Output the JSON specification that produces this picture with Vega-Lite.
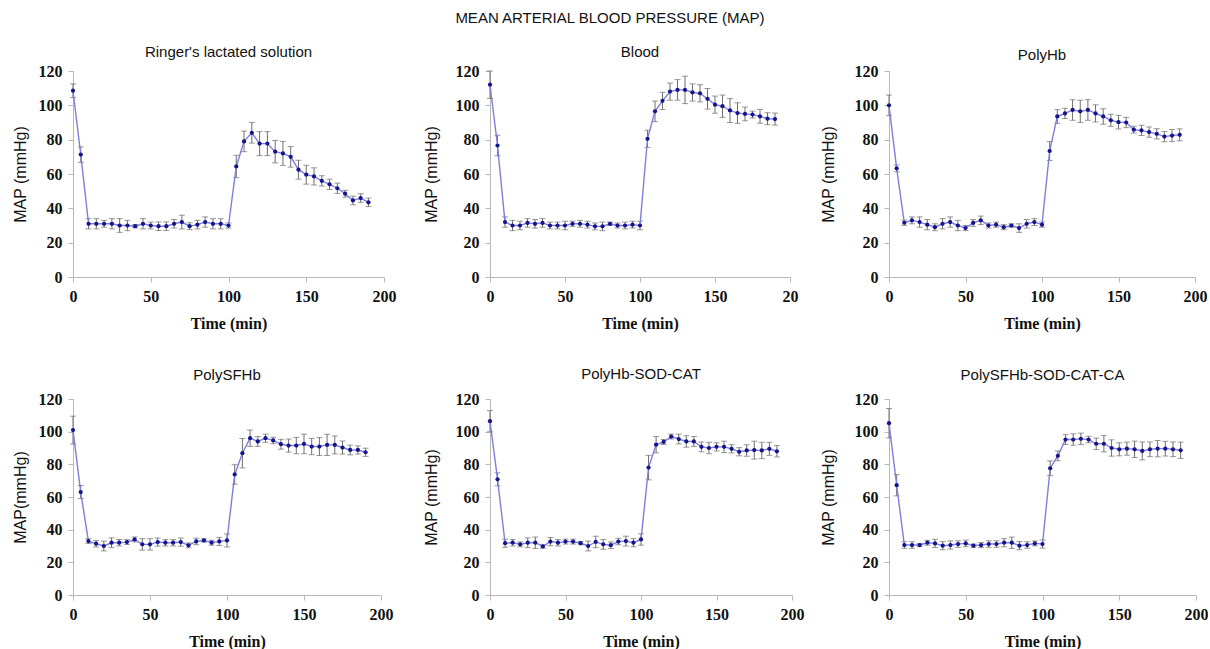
{
  "$schema": "https://vega.github.io/schema/vega-lite/v6.json",
  "padding": {"left": 12, "top": 11, "right": 0, "bottom": 0},
  "background": "white",
  "title": {"text": "MEAN ARTERIAL BLOOD PRESSURE (MAP)", "font": "Liberation Sans", "fontSize": 15, "fontWeight": "normal", "color": "#111", "anchor": "middle", "offset": 19},
  "datasets": {
    "ringer": [
      {"t":0,"m":108.5,"e":4},{"t":5,"m":71.3,"e":4.5},{"t":10,"m":31,"e":3},{"t":15,"m":31,"e":3},{"t":20,"m":31,"e":2},{"t":25,"m":31,"e":3},{"t":30,"m":30,"e":4},{"t":35,"m":30,"e":3},{"t":40,"m":29.6,"e":1},{"t":45,"m":31,"e":3},{"t":50,"m":30,"e":2},{"t":55,"m":29.6,"e":2.5},{"t":60,"m":29.6,"e":2.5},{"t":65,"m":31,"e":2.5},{"t":70,"m":32,"e":4},{"t":75,"m":29.6,"e":2},{"t":80,"m":30.5,"e":2.5},{"t":85,"m":32,"e":3},{"t":90,"m":31,"e":3},{"t":95,"m":31,"e":3},{"t":100,"m":30,"e":1.5},{"t":105,"m":64.4,"e":6.5},{"t":110,"m":79,"e":6},{"t":115,"m":84,"e":6},{"t":120,"m":77.7,"e":7},{"t":125,"m":77.7,"e":7},{"t":130,"m":73,"e":6.5},{"t":135,"m":72,"e":7},{"t":140,"m":70,"e":6},{"t":145,"m":62.5,"e":5.5},{"t":150,"m":59.6,"e":5.5},{"t":155,"m":58.6,"e":5},{"t":160,"m":56,"e":3},{"t":165,"m":54,"e":3},{"t":170,"m":51.7,"e":3},{"t":175,"m":48.5,"e":2},{"t":180,"m":44.6,"e":2.5},{"t":185,"m":46,"e":2.5},{"t":190,"m":43.5,"e":2.5}
    ],
    "blood": [
      {"t":0,"m":112,"e":8},{"t":5,"m":76.6,"e":6},{"t":10,"m":32,"e":3},{"t":15,"m":30,"e":3},{"t":20,"m":30,"e":2.5},{"t":25,"m":31.5,"e":2.5},{"t":30,"m":31,"e":2.5},{"t":35,"m":31.5,"e":2.5},{"t":40,"m":30,"e":2},{"t":45,"m":30,"e":2},{"t":50,"m":30,"e":2.5},{"t":55,"m":31,"e":1.5},{"t":60,"m":31,"e":2},{"t":65,"m":30.5,"e":2},{"t":70,"m":29.5,"e":2},{"t":75,"m":29.5,"e":2.5},{"t":80,"m":31,"e":1},{"t":85,"m":30,"e":1.5},{"t":90,"m":30,"e":2},{"t":95,"m":30.5,"e":2},{"t":100,"m":30,"e":2.5},{"t":105,"m":80.5,"e":5},{"t":110,"m":96.5,"e":6},{"t":115,"m":102.6,"e":5},{"t":120,"m":108,"e":5},{"t":125,"m":109,"e":6},{"t":130,"m":109,"e":8},{"t":135,"m":107.5,"e":5},{"t":140,"m":107,"e":5},{"t":145,"m":103.8,"e":6},{"t":150,"m":100.4,"e":5},{"t":155,"m":99.5,"e":6.5},{"t":160,"m":97,"e":7},{"t":165,"m":95.5,"e":6},{"t":170,"m":95,"e":4},{"t":175,"m":94.6,"e":2},{"t":180,"m":93.6,"e":4},{"t":185,"m":92.2,"e":3.5},{"t":190,"m":92,"e":3.5}
    ],
    "polyhb": [
      {"t":0,"m":100,"e":6},{"t":5,"m":63.3,"e":2},{"t":10,"m":31.6,"e":1.5},{"t":15,"m":33,"e":2},{"t":20,"m":32,"e":3},{"t":25,"m":30.5,"e":3},{"t":30,"m":29,"e":2},{"t":35,"m":31,"e":3},{"t":40,"m":32,"e":3},{"t":45,"m":30,"e":3},{"t":50,"m":28.5,"e":1.5},{"t":55,"m":31.5,"e":2},{"t":60,"m":33,"e":2.5},{"t":65,"m":30,"e":1.5},{"t":70,"m":30.5,"e":1.5},{"t":75,"m":29,"e":1.5},{"t":80,"m":30,"e":1},{"t":85,"m":28.5,"e":2.5},{"t":90,"m":31,"e":2.5},{"t":95,"m":32,"e":2},{"t":100,"m":30.5,"e":1.5},{"t":105,"m":73.4,"e":5.5},{"t":110,"m":93.5,"e":4},{"t":115,"m":95.3,"e":3},{"t":120,"m":97.3,"e":6},{"t":125,"m":96.5,"e":6.5},{"t":130,"m":97.3,"e":6},{"t":135,"m":95.3,"e":5},{"t":140,"m":93.5,"e":4.5},{"t":145,"m":91.3,"e":3.5},{"t":150,"m":90.2,"e":4},{"t":155,"m":90,"e":3},{"t":160,"m":85.8,"e":2},{"t":165,"m":85.4,"e":3},{"t":170,"m":84.4,"e":3},{"t":175,"m":83.4,"e":3},{"t":180,"m":81.8,"e":3},{"t":185,"m":82.4,"e":3.5},{"t":190,"m":82.8,"e":3.5}
    ],
    "polysfhb": [
      {"t":0,"m":101,"e":8.5},{"t":5,"m":63,"e":4},{"t":10,"m":33,"e":1.5},{"t":15,"m":31.4,"e":2},{"t":20,"m":30,"e":3},{"t":25,"m":32,"e":3},{"t":30,"m":32,"e":2},{"t":35,"m":32.4,"e":1.5},{"t":40,"m":34,"e":1.5},{"t":45,"m":31,"e":3.5},{"t":50,"m":31,"e":3.5},{"t":55,"m":32.4,"e":2.5},{"t":60,"m":32,"e":2},{"t":65,"m":32,"e":2},{"t":70,"m":32.4,"e":2.5},{"t":75,"m":30.4,"e":1.5},{"t":80,"m":32.8,"e":2},{"t":85,"m":33.4,"e":1},{"t":90,"m":32,"e":1.5},{"t":95,"m":32.8,"e":2.5},{"t":100,"m":33.4,"e":4},{"t":105,"m":73.8,"e":6},{"t":110,"m":86.8,"e":9},{"t":115,"m":96,"e":5},{"t":120,"m":94,"e":3},{"t":125,"m":96,"e":2.5},{"t":130,"m":94.6,"e":2},{"t":135,"m":92.3,"e":3},{"t":140,"m":91.5,"e":4},{"t":145,"m":91.5,"e":5},{"t":150,"m":92.5,"e":6},{"t":155,"m":90.9,"e":5},{"t":160,"m":90.9,"e":5.5},{"t":165,"m":91.9,"e":6.5},{"t":170,"m":91.9,"e":5.5},{"t":175,"m":90.3,"e":4},{"t":180,"m":88.8,"e":3},{"t":185,"m":88.8,"e":2.5},{"t":190,"m":87.4,"e":2.5}
    ],
    "sodcat": [
      {"t":0,"m":106.4,"e":6.5},{"t":5,"m":70.8,"e":4},{"t":10,"m":31.7,"e":2.5},{"t":15,"m":32,"e":2},{"t":20,"m":31,"e":1.5},{"t":25,"m":32,"e":3},{"t":30,"m":32,"e":3.5},{"t":35,"m":29.7,"e":1},{"t":40,"m":32.7,"e":2.5},{"t":45,"m":32,"e":2},{"t":50,"m":32.7,"e":1.5},{"t":55,"m":32.7,"e":1.5},{"t":60,"m":31.7,"e":1},{"t":65,"m":30,"e":3},{"t":70,"m":32.5,"e":3.5},{"t":75,"m":31,"e":3},{"t":80,"m":30.5,"e":2},{"t":85,"m":32.7,"e":2},{"t":90,"m":33,"e":3},{"t":95,"m":32,"e":2.5},{"t":100,"m":34,"e":3.5},{"t":105,"m":78,"e":7.5},{"t":110,"m":92,"e":5},{"t":115,"m":93.7,"e":1.5},{"t":120,"m":97,"e":1.5},{"t":125,"m":95.5,"e":3},{"t":130,"m":94,"e":3.5},{"t":135,"m":94,"e":3},{"t":140,"m":90.7,"e":3},{"t":145,"m":90,"e":3.5},{"t":150,"m":90.7,"e":2.5},{"t":155,"m":90.7,"e":3.5},{"t":160,"m":89.5,"e":2.5},{"t":165,"m":87.7,"e":2.5},{"t":170,"m":88.5,"e":3.5},{"t":175,"m":88.7,"e":5.5},{"t":180,"m":88.5,"e":5},{"t":185,"m":89.5,"e":4},{"t":190,"m":88,"e":3.5}
    ],
    "sodcatca": [
      {"t":0,"m":105.2,"e":9},{"t":5,"m":67.2,"e":6.5},{"t":10,"m":30.6,"e":2},{"t":15,"m":30.6,"e":2},{"t":20,"m":30.6,"e":1},{"t":25,"m":32,"e":1.5},{"t":30,"m":31.6,"e":2.5},{"t":35,"m":30.2,"e":2.5},{"t":40,"m":30.6,"e":2.5},{"t":45,"m":31.2,"e":2},{"t":50,"m":31.6,"e":2},{"t":55,"m":30.2,"e":1},{"t":60,"m":30.6,"e":1.5},{"t":65,"m":31.2,"e":2},{"t":70,"m":31.2,"e":2},{"t":75,"m":32,"e":2.5},{"t":80,"m":32,"e":3.5},{"t":85,"m":30.2,"e":2.5},{"t":90,"m":30.6,"e":2},{"t":95,"m":31.6,"e":1.5},{"t":100,"m":31.2,"e":2.5},{"t":105,"m":77.6,"e":4.5},{"t":110,"m":85.2,"e":3},{"t":115,"m":95.2,"e":3},{"t":120,"m":95.2,"e":3.5},{"t":125,"m":95.6,"e":3.5},{"t":130,"m":95.2,"e":2},{"t":135,"m":92.6,"e":3.5},{"t":140,"m":92.6,"e":5},{"t":145,"m":90,"e":5},{"t":150,"m":89.2,"e":4},{"t":155,"m":89.6,"e":4},{"t":160,"m":89.2,"e":5},{"t":165,"m":88.2,"e":5.5},{"t":170,"m":89.2,"e":4.5},{"t":175,"m":89.6,"e":5},{"t":180,"m":89.6,"e":4.5},{"t":185,"m":89.2,"e":4.5},{"t":190,"m":88.6,"e":5}
    ]
  },
  "vconcat": [
    {
      "spacing": 27,
      "hconcat": [
        {
          "width": 311, "height": 206,
          "title": {"text": "Ringer's lactated solution", "offset": 3},
          "data": {"name": "ringer"},
          "encoding": {
            "x": {"field": "t", "type": "quantitative", "scale": {"domain": [0, 200], "nice": false}, "axis": {"title": "Time (min)", "values": [0, 50, 100, 150, 200]}},
            "y": {"field": "m", "type": "quantitative", "scale": {"domain": [0, 120], "nice": false}, "axis": {"title": "MAP (mmHg)", "values": [0, 20, 40, 60, 80, 100, 120], "titlePadding": 10}}
          },
          "layer": [
            {"mark": {"type": "errorbar", "color": "#6e6e6e", "thickness": 1, "ticks": {"size": 6, "color": "#6e6e6e"}}, "encoding": {"yError": {"field": "e"}}},
            {"mark": {"type": "line", "color": "#7d7fdc", "strokeWidth": 1.4}, "encoding": {}},
            {"mark": {"type": "circle", "color": "#14148c", "size": 18, "opacity": 1}, "encoding": {}}
          ]
        },
        {
          "spacing": 22,
          "hconcat": [
            {
              "width": 300, "height": 206,
              "title": {"text": "Blood", "offset": 3},
              "data": {"name": "blood"},
              "encoding": {
                "x": {"field": "t", "type": "quantitative", "scale": {"domain": [0, 200], "nice": false}, "axis": {"title": "Time (min)", "values": [0, 50, 100, 150, 200], "labelExpr": "datum.value == 200 ? '20' : datum.label"}},
                "y": {"field": "m", "type": "quantitative", "scale": {"domain": [0, 120], "nice": false}, "axis": {"title": "MAP (mmHg)", "values": [0, 20, 40, 60, 80, 100, 120], "titlePadding": 16}}
              },
              "layer": [
                {"mark": {"type": "errorbar", "color": "#6e6e6e", "thickness": 1, "ticks": {"size": 6, "color": "#6e6e6e"}}, "encoding": {"yError": {"field": "e"}}},
                {"mark": {"type": "line", "color": "#7d7fdc", "strokeWidth": 1.4}, "encoding": {}},
                {"mark": {"type": "circle", "color": "#14148c", "size": 18, "opacity": 1}, "encoding": {}}
              ]
            },
            {
              "width": 306, "height": 206,
              "title": {"text": "PolyHb", "offset": 0},
              "data": {"name": "polyhb"},
              "encoding": {
                "x": {"field": "t", "type": "quantitative", "scale": {"domain": [0, 200], "nice": false}, "axis": {"title": "Time (min)", "values": [0, 50, 100, 150, 200]}},
                "y": {"field": "m", "type": "quantitative", "scale": {"domain": [0, 120], "nice": false}, "axis": {"title": "MAP (mmHg)", "values": [0, 20, 40, 60, 80, 100, 120], "titlePadding": 18}}
              },
              "layer": [
                {"mark": {"type": "errorbar", "color": "#6e6e6e", "thickness": 1, "ticks": {"size": 6, "color": "#6e6e6e"}}, "encoding": {"yError": {"field": "e"}}},
                {"mark": {"type": "line", "color": "#7d7fdc", "strokeWidth": 1.4}, "encoding": {}},
                {"mark": {"type": "circle", "color": "#14148c", "size": 18, "opacity": 1}, "encoding": {}}
              ]
            }
          ]
        }
      ]
    },
    {
      "spacing": 30,
      "hconcat": [
        {
          "width": 308, "height": 196,
          "title": {"text": "PolySFHb", "offset": 8},
          "data": {"name": "polysfhb"},
          "encoding": {
            "x": {"field": "t", "type": "quantitative", "scale": {"domain": [0, 200], "nice": false}, "axis": {"title": "Time (min)", "values": [0, 50, 100, 150, 200]}},
            "y": {"field": "m", "type": "quantitative", "scale": {"domain": [0, 120], "nice": false}, "axis": {"title": "MAP(mmHg)", "values": [0, 20, 40, 60, 80, 100, 120], "titlePadding": 10}}
          },
          "layer": [
            {"mark": {"type": "errorbar", "color": "#6e6e6e", "thickness": 1, "ticks": {"size": 6, "color": "#6e6e6e"}}, "encoding": {"yError": {"field": "e"}}},
            {"mark": {"type": "line", "color": "#7d7fdc", "strokeWidth": 1.4}, "encoding": {}},
            {"mark": {"type": "circle", "color": "#14148c", "size": 18, "opacity": 1}, "encoding": {}}
          ]
        },
        {
          "spacing": 16,
          "hconcat": [
            {
              "width": 302, "height": 196,
              "title": {"text": "PolyHb-SOD-CAT", "offset": 9},
              "data": {"name": "sodcat"},
              "encoding": {
                "x": {"field": "t", "type": "quantitative", "scale": {"domain": [0, 200], "nice": false}, "axis": {"title": "Time (min)", "values": [0, 50, 100, 150, 200]}},
                "y": {"field": "m", "type": "quantitative", "scale": {"domain": [0, 120], "nice": false}, "axis": {"title": "MAP (mmHg)", "values": [0, 20, 40, 60, 80, 100, 120], "titlePadding": 16}}
              },
              "layer": [
                {"mark": {"type": "errorbar", "color": "#6e6e6e", "thickness": 1, "ticks": {"size": 6, "color": "#6e6e6e"}}, "encoding": {"yError": {"field": "e"}}},
                {"mark": {"type": "line", "color": "#7d7fdc", "strokeWidth": 1.4}, "encoding": {}},
                {"mark": {"type": "circle", "color": "#14148c", "size": 18, "opacity": 1}, "encoding": {}}
              ]
            },
            {
              "width": 307, "height": 196,
              "title": {"text": "PolySFHb-SOD-CAT-CA", "offset": 8},
              "data": {"name": "sodcatca"},
              "encoding": {
                "x": {"field": "t", "type": "quantitative", "scale": {"domain": [0, 200], "nice": false}, "axis": {"title": "Time (min)", "values": [0, 50, 100, 150, 200]}},
                "y": {"field": "m", "type": "quantitative", "scale": {"domain": [0, 120], "nice": false}, "axis": {"title": "MAP (mmHg)", "values": [0, 20, 40, 60, 80, 100, 120], "titlePadding": 18}}
              },
              "layer": [
                {"mark": {"type": "errorbar", "color": "#6e6e6e", "thickness": 1, "ticks": {"size": 6, "color": "#6e6e6e"}}, "encoding": {"yError": {"field": "e"}}},
                {"mark": {"type": "line", "color": "#7d7fdc", "strokeWidth": 1.4}, "encoding": {}},
                {"mark": {"type": "circle", "color": "#14148c", "size": 18, "opacity": 1}, "encoding": {}}
              ]
            }
          ]
        }
      ]
    }
  ],
  "spacing": 36,
  "config": {
    "view": {"stroke": null},
    "title": {"font": "Liberation Sans", "fontSize": 15, "fontWeight": "normal", "color": "#111", "anchor": "middle"},
    "axis": {"grid": false, "domainColor": "#b8b8b8", "tickColor": "#b8b8b8", "tickSize": 5, "labelFont": "Liberation Serif", "labelFontWeight": "bold", "labelFontSize": 16, "labelColor": "#111", "titleColor": "#111"},
    "axisX": {"labelPadding": 6, "titleFont": "Liberation Serif", "titleFontWeight": "bold", "titleFontSize": 16, "titlePadding": 11, "labelFlush": false},
    "axisY": {"labelPadding": 6, "titleFont": "Liberation Sans", "titleFontWeight": "normal", "titleFontSize": 16}
  }
}
